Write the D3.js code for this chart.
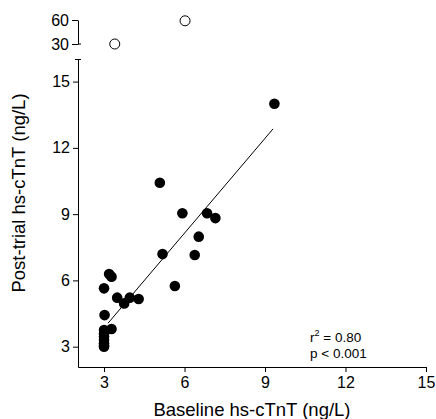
<!DOCTYPE html>
<html>
<head>
<meta charset="utf-8">
<script src="https://cdn.jsdelivr.net/npm/d3@7"></script>
<style>
  body { margin: 0; background: #fff; }
  svg { display: block; font-family: "Liberation Sans", Arial, sans-serif; }
</style>
</head>
<body>
<svg id="chart" width="436" height="419"></svg>
<script>
// values
var baseline  = [9.35, 5.08, 5.92, 6.84, 7.15, 6.53, 5.18, 6.38, 3.0, 3.19, 3.28, 3.49, 3.75, 3.96, 4.29, 5.64, 3.02, 3.28, 3.0, 3.0, 3.0, 3.0, 3.0, 3.0, 3.0]
var postTrial = [14.0, 10.42, 9.04, 9.04, 8.82, 7.98, 7.19, 7.15, 5.64, 6.29, 6.17, 5.22, 4.96, 5.22, 5.16, 5.75, 4.43, 3.8, 3.75, 3.6, 3.45, 3.3, 3.15, 3.05, 3.0]

// outliers shown on the broken upper segment
var outBaseline  = [3.4, 6.02]
var outPostTrial = [30, 59]

var xTicks = [3, 6, 9, 12, 15]
var yTicks = [3, 6, 9, 12, 15]
var yTicksUpper = [30, 60]

// regression line
var fitSlope = 1.43
var fitIntercept = -0.44
var fitRange = [3.15, 9.3]

var statLines = ["= 0.80", "p < 0.001"]

var svg = d3.select("#chart")

var x = d3.scaleLinear().domain([2.03, 15]).range([78, 426])
var y = d3.scaleLinear().domain([2.08, 16]).range([367, 59.5])
var yUp = d3.scaleLinear().domain([30, 60]).range([44, 20])

// x axis
var gx = svg.append("g").attr("transform", "translate(0,367)")
  .call(d3.axisBottom(x).tickValues(xTicks).tickSize(5).tickSizeOuter(0).tickPadding(5))
gx.selectAll("text").attr("font-size", 16).attr("fill", "#000").style("font-family", "inherit")

// lower y axis
var gy = svg.append("g").attr("transform", "translate(78,0)")
  .call(d3.axisLeft(y).tickValues(yTicks).tickSize(5).tickSizeOuter(0).tickPadding(3))
gy.selectAll("text").attr("font-size", 16).attr("fill", "#000").style("font-family", "inherit")

// upper y axis
var gyu = svg.append("g").attr("transform", "translate(78,0)")
  .call(d3.axisLeft(yUp).tickValues(yTicksUpper).tickSize(6).tickSizeOuter(0).tickPadding(3))
gyu.selectAll("text").attr("font-size", 16).attr("fill", "#000").style("font-family", "inherit")

svg.selectAll(".domain, .tick line").attr("stroke", "#000").attr("stroke-width", 1)

// break caps
svg.append("line").attr("x1", 78).attr("x2", 81).attr("y1", yUp(30)).attr("y2", yUp(30)).attr("stroke", "#000")
svg.append("line").attr("x1", 75).attr("x2", 81).attr("y1", y(16)).attr("y2", y(16)).attr("stroke", "#000")

// fit line
svg.append("line")
  .attr("x1", x(fitRange[0])).attr("y1", y(fitSlope * fitRange[0] + fitIntercept))
  .attr("x2", x(fitRange[1])).attr("y2", y(fitSlope * fitRange[1] + fitIntercept))
  .attr("stroke", "#000").attr("stroke-width", 1)

// points
svg.append("g").selectAll("circle")
  .data(d3.range(baseline.length))
  .enter().append("circle")
  .attr("cx", function(i) { return x(baseline[i]) })
  .attr("cy", function(i) { return y(postTrial[i]) })
  .attr("r", 5.3)
  .attr("fill", "#000")

svg.append("g").selectAll("circle")
  .data(d3.range(outBaseline.length))
  .enter().append("circle")
  .attr("cx", function(i) { return x(outBaseline[i]) })
  .attr("cy", function(i) { return yUp(outPostTrial[i]) })
  .attr("r", 5)
  .attr("fill", "#fff")
  .attr("stroke", "#000")
  .attr("stroke-width", 1)

// stats
var st = svg.append("text").attr("x", 310).attr("y", 342).attr("font-size", 13.5).attr("fill", "#000")
st.append("tspan").text("r")
st.append("tspan").attr("font-size", 9).attr("dy", -6).text("2")
st.append("tspan").attr("dy", 6).text(" " + statLines[0])
svg.append("text").attr("x", 310).attr("y", 358).attr("font-size", 13.5).attr("fill", "#000").text(statLines[1])

// axis titles
svg.append("text").attr("x", 252).attr("y", 416).attr("text-anchor", "middle")
  .attr("font-size", 18.5).attr("fill", "#000").text("Baseline hs-cTnT (ng/L)")
svg.append("text").attr("transform", "translate(25,193) rotate(-90)").attr("text-anchor", "middle")
  .attr("font-size", 18.5).attr("fill", "#000").text("Post-trial hs-cTnT (ng/L)")
</script>
</body>
</html>
